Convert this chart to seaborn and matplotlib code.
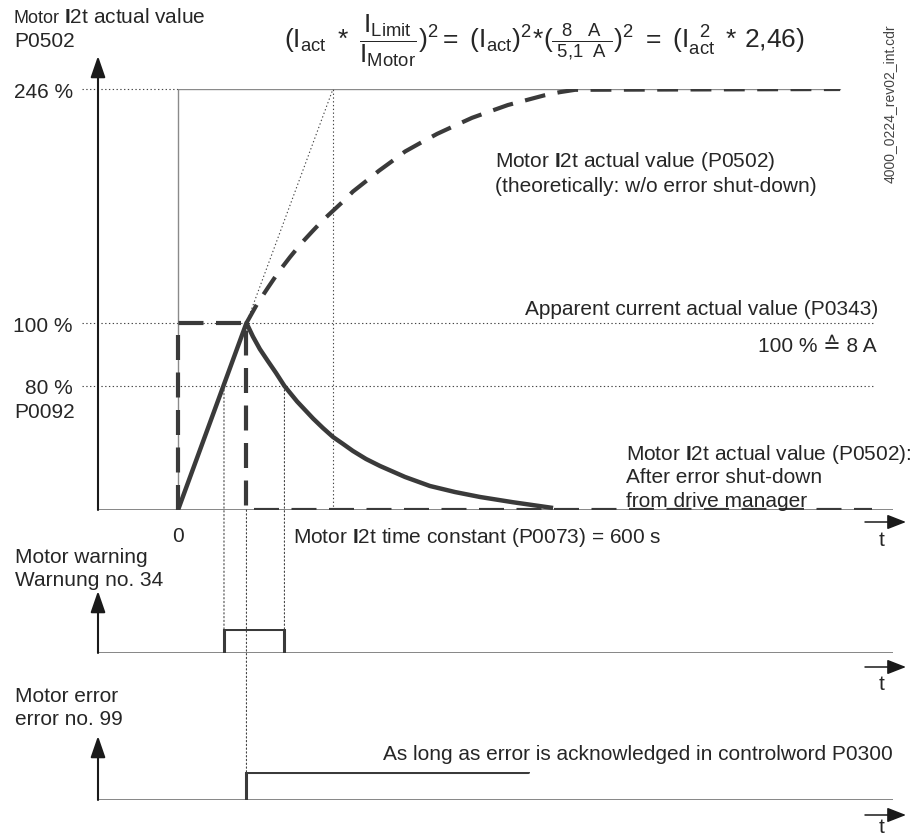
import numpy as np
import matplotlib
matplotlib.use("Agg")
import matplotlib.pyplot as plt
import seaborn as sns
from matplotlib.patches import FancyArrowPatch, ConnectionPatch

# ---- values (time in s, level in %) ----
tau = 600                      # Motor I2t time constant P0073
level_max = 246                # (8 A / 5,1 A)^2
level_nom = 100
level_warn = 80                # P0092
t_solid = [0, 265, 290, 317, 348, 379, 412, 461, 492, 523, 561, 600, 639, 677, 728,
           782, 879, 975, 1072, 1169, 1297, 1452]
i2t_solid = [0, 100, 95.7, 91.7, 87.9, 84.2, 80, 70, 64.5, 59, 52.9, 47.1, 42.6, 38.1,
             32.9, 28.4, 21.3, 15.5, 11.6, 8.4, 5, 1.3]
t_theory = [265, 305, 348, 390, 433, 476, 519, 560, 600, 640, 677, 728, 778, 829,
            879, 940, 1003, 1070, 1138, 1207, 1277, 1347, 1417, 1477, 1537, 2563]
i2t_theory = [100, 111.5, 122, 132, 141, 149.5, 157, 164, 170, 176, 182, 188.5, 195,
              201, 207, 212.5, 218, 223, 228, 232, 236, 239, 242, 244, 245.5, 246]
t_current = [0, 0, 265, 265, 2687]
current = [0, 100, 100, 0, 0]
t_warn = [178, 178, 412, 412]
warn = [0, 1, 1, 0]
t_err = [265, 265, 1355]
err = [0, 1, 1]
y_ticks = [80, 100, 246]
y_labels = ["80 %", "100 %", "246 %"]

# schematic (non linear) level axis of the drawing
scale_pct = [0, 80, 100, 246]
scale_h = [0, 124, 187, 421]

sns.set_theme(style="white")
plt.rcParams["font.family"] = ["Liberation Sans", "DejaVu Sans"]
plt.rcParams["mathtext.fontset"] = "custom"
plt.rcParams["mathtext.rm"] = "Liberation Sans"
plt.rcParams["mathtext.it"] = "Liberation Sans:italic"
plt.rcParams["mathtext.bf"] = "Liberation Sans:bold"
plt.rcParams["mathtext.default"] = "regular"

W, H = 920, 837
fig = plt.figure(figsize=(W / 100, H / 100), dpi=100)


def px(x, y):
    return (x / W, 1 - y / H)


def box(x0, y0, x1, y1):
    return [x0 / W, 1 - y1 / H, (x1 - x0) / W, (y1 - y0) / H]


dark = "#3a3a3a"
txt = "#262626"
dot = (0, (1.2, 2.2))

ax = fig.add_axes(box(98, 90, 893, 511))
ax_w = fig.add_axes(box(98, 630, 893, 654))
ax_e = fig.add_axes(box(98, 773, 893, 801))

xlim = ((98 - 178) * tau / 155, (893 - 178) * tau / 155)
for a in (ax, ax_w, ax_e):
    a.set_xlim(xlim)
    a.set_facecolor("none")
    sns.despine(ax=a, left=True, bottom=True)
    a.set_xticks([])
    a.axhline(0, color="#666666", lw=1.1, zorder=1)
    a.set_xlabel("")
    a.set_ylabel("")

ax.set_yscale("function",
              functions=(lambda y: np.interp(y, scale_pct, scale_h),
                         lambda h: np.interp(h, scale_h, scale_pct)))
ax.set_ylim(0, level_max)
ax.set_yticks(y_ticks, y_labels)
ax.yaxis.set_minor_locator(matplotlib.ticker.NullLocator())
ax.tick_params(axis="y", length=0, pad=18, labelsize=15, labelcolor=txt)
for a in (ax_w, ax_e):
    a.set_ylim(0, 1)
    a.set_yticks([])

# thin reference lines
x0f = (0 - xlim[0]) / (xlim[1] - xlim[0])
ax.hlines(level_max, -0.02, x0f, transform=ax.get_yaxis_transform(),
          color="#444", lw=0.8, linestyle=dot, clip_on=False)
ax.hlines([level_nom, level_warn], -0.02, 0.975, transform=ax.get_yaxis_transform(),
          color="#444", lw=0.8, linestyle=dot, clip_on=False)
ax.plot([0, 0], [0, level_max], color="#8a8a8a", lw=1.0)
ax.plot([0, t_theory[-1]], [level_max, level_max], color="#8a8a8a", lw=1.0)
ax.plot([t_solid[1], tau], [level_nom, level_max], color="#444", lw=0.8, linestyle=dot)
ax.plot([tau, tau], [0, level_max], color="#444", lw=0.8, linestyle=dot)

# curves
sns.lineplot(x=t_current, y=current, ax=ax, color=dark, lw=3,
             linestyle=(0, (6, 3)), estimator=None, sort=False)
sns.lineplot(x=t_theory, y=i2t_theory, ax=ax, color=dark, lw=3,
             linestyle=(0, (5, 3)), estimator=None, sort=False)
sns.lineplot(x=t_solid, y=i2t_solid, ax=ax, color=dark, lw=3.2,
             estimator=None, sort=False, solid_capstyle="butt",
             solid_joinstyle="round")
sns.lineplot(x=t_warn, y=warn, ax=ax_w, color=dark, lw=2.2,
             estimator=None, sort=False)
sns.lineplot(x=t_err, y=err, ax=ax_e, color=dark, lw=2.2,
             estimator=None, sort=False)

# dotted links between the panels
for xa, ya, axb, xb in [(t_warn[0], level_warn, ax_w, t_warn[0]),
                        (t_warn[2], level_warn, ax_w, t_warn[2]),
                        (t_err[0], 0, ax_e, t_err[0])]:
    fig.add_artist(ConnectionPatch(xyA=(xa, ya), coordsA=ax.transData,
                                   xyB=(xb, 1), coordsB=axb.transData,
                                   color="#444", lw=0.8, linestyle=dot))


# axis arrows
def arrow(x0, y0, x1, y1, lw=1.5, hl=1.3, hw=0.45):
    fig.add_artist(FancyArrowPatch(px(x0, y0), px(x1, y1), transform=fig.transFigure,
                                   arrowstyle=f"-|>,head_length={hl},head_width={hw}",
                                   mutation_scale=10, lw=lw, color="k",
                                   shrinkA=0, shrinkB=0))


arrow(98, 511, 98, 57)
arrow(98, 654, 98, 592)
arrow(98, 801, 98, 737)
for yy in (523, 668, 816):
    arrow(865, yy, 906, yy, lw=1.1, hl=1.15, hw=0.45)

# texts
def label(x, y, s, size=15, **kw):
    kw.setdefault("va", "baseline")
    kw.setdefault("color", txt)
    fig.text(*px(x, y), s, fontsize=size, **kw)


label(14, 23, "Motor", 13)
label(64, 23, r"$\mathbf{I}$2t actual value")
label(14, 47, "P0502")
formula = (r"$(I_{act}\ *\ \dfrac{I_{Limit}}{I_{Motor}})^{2}=\ "
           r"(I_{act})^{2}\!*\!(\frac{\ 8\ \ \ A\ }{\ 5{,}1\ \ A\ })^{2}"
           r"\ =\ (I_{act}^{\ \ 2}\ *\,2{,}46)$")
label(284, 48, formula, 19)
label(890, 104, "4000_0224_rev02_int.cdr", 10, rotation=90, ha="center",
      va="center", color="#444")
label(495, 167, r"Motor $\mathbf{I}$2t actual value (P0502)")
label(495, 192, "(theoretically: w/o error shut-down)")
label(878, 315, "Apparent current actual value (P0343)", ha="right")
label(877, 352, "100 % \u2259 8 A", ha="right")
label(14, 418, "P0092")
label(626, 460, r"Motor $\mathbf{I}$2t actual value (P0502):")
label(626, 483, "After error shut-down")
label(626, 507, "from drive manager")
label(293, 543, r"Motor $\mathbf{I}$2t time constant (P0073) = 600 s")
ax.annotate("0", xy=(0, 0), xytext=(0, -18), textcoords="offset points",
            ha="center", va="center", fontsize=15, color=txt)
for yy in (541, 684, 828):
    label(882, yy, "t", va="center", ha="center")
label(15, 563, "Motor warning")
label(15, 586, "Warnung no. 34")
label(15, 702, "Motor error")
label(15, 725, "error no. 99")
label(893, 760, "As long as error is acknowledged in controlword P0300", ha="right")

fig.savefig("out.png", dpi=100)
